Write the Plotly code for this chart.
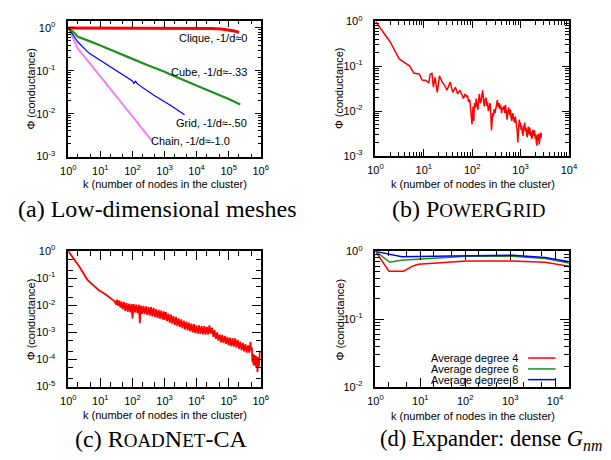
import plotly.graph_objects as go

# ---------------- data ----------------
# (a) Low-dimensional meshes
clique_k = [1, 10, 100, 1000, 10000, 30000, 60000, 100000, 150000, 210000]
clique_phi = [1.0, 1.0, 1.0, 1.0, 0.99, 0.97, 0.94, 0.9, 0.85, 0.79]

cube_k = [1, 1.5, 2, 3, 5, 10, 20, 50, 100, 300, 1000, 3000, 10000, 30000, 100000, 230000]
cube_phi = [1.0, 0.78, 0.62, 0.56, 0.48, 0.39, 0.31, 0.235, 0.19, 0.135, 0.095, 0.066,
            0.046, 0.032, 0.022, 0.0165]

grid_k = [1, 2, 4.4, 14, 45, 100, 110, 125, 145, 465, 1480, 4200]
grid_phi = [1.0, 0.47, 0.26, 0.15, 0.083, 0.058, 0.051, 0.057, 0.049, 0.027, 0.016, 0.0095]

chain_k = [1, 2, 10, 100, 414]
chain_phi = [1.0, 0.33, 0.074, 0.0087, 0.0023]

# (b) PowerGrid
pg_k = [1, 2, 3.1, 5.1, 6.2, 8.1, 9.2, 11, 12.6, 13.5,
        14.7, 15.8, 17, 19, 21, 24, 27, 30, 35, 39.5,
        45, 50, 56, 62, 66, 71, 76,
        80, 84, 89, 92, 96, 99, 102, 104, 106, 108,
        110, 112, 116, 121, 126, 131, 136, 141, 146, 152,
        158, 165, 171, 178, 185, 193, 200, 207, 215, 225,
        235, 243, 250, 258, 266, 274, 285, 296, 307, 319,
        331, 345, 360, 374, 388, 405, 420, 437, 455, 472,
        489, 507, 525, 547, 570, 593, 616, 638, 660, 687,
        714, 747, 780, 807, 834, 855, 875, 907, 940, 970,
        1000, 1025, 1050, 1088, 1125, 1170, 1220, 1260, 1300, 1335,
        1370, 1410, 1450, 1500, 1550, 1595, 1640, 1690, 1740, 1795,
        1850, 1900, 1950, 2010, 2070, 2125, 2180, 2235, 2290, 2340,
        2390, 2425, 2460, 2495, 2530, 2590, 2650, 2700]
pg_phi = [1.0, 0.35, 0.145, 0.1, 0.07, 0.066, 0.049, 0.048, 0.042, 0.066,
          0.069, 0.034, 0.056, 0.026, 0.061, 0.044, 0.037, 0.029, 0.044, 0.026,
          0.034, 0.024, 0.029, 0.022, 0.019, 0.024, 0.021,
          0.022, 0.016, 0.018, 0.012, 0.009, 0.005, 0.009, 0.0126, 0.008, 0.006,
          0.011, 0.015, 0.012, 0.019, 0.013, 0.0107, 0.018, 0.024, 0.015, 0.016,
          0.022, 0.029, 0.017, 0.0126, 0.018, 0.02, 0.013, 0.016, 0.01, 0.013,
          0.015, 0.008, 0.0037, 0.006, 0.009, 0.0076, 0.011, 0.009, 0.0126, 0.014,
          0.0177, 0.012, 0.015, 0.011, 0.0138, 0.009, 0.012, 0.0107, 0.013, 0.009,
          0.0138, 0.009, 0.0064, 0.01, 0.012, 0.008, 0.0107, 0.007, 0.006, 0.009,
          0.0076, 0.0055, 0.0075, 0.0058, 0.005, 0.0035, 0.002, 0.0045, 0.0064, 0.0045,
          0.0055, 0.0038, 0.0047, 0.0034, 0.0028, 0.0045, 0.0055, 0.0035, 0.0042, 0.003,
          0.0026, 0.0036, 0.0045, 0.003, 0.0043, 0.0028, 0.0035, 0.0024, 0.0026, 0.0038,
          0.0028, 0.0034, 0.0037, 0.0024, 0.003, 0.0019, 0.0017, 0.0027, 0.003, 0.0022,
          0.0031, 0.0018, 0.0021, 0.0026, 0.0022, 0.0033, 0.0025, 0.0032]

# (c) RoadNet-CA
rn_k = [1, 2.2, 4, 6, 9, 14, 20,
        28, 31, 33, 36, 39, 42, 46, 50, 55, 60, 66, 72, 79, 86, 94,
        100, 110, 120, 131, 144, 158, 170, 182, 200, 219, 240, 263, 288,
        316, 347, 380, 417, 457, 500, 550, 600, 660, 720, 790, 870, 950,
        1000, 1100, 1200, 1320, 1450, 1580, 1740, 1900, 2090, 2290, 2510, 2750,
        3020, 3310, 3630, 3980, 4370, 4790, 5250, 5750, 6310, 6920, 7590, 8320, 9120,
        10000, 10960, 12020, 13180, 14450, 15850, 17380, 19050, 20890, 22910, 25120,
        27540, 30200, 33110, 36310, 39810, 43650, 47860, 52480, 57540, 63100, 69180,
        75860, 83180, 91200,
        100000, 109600, 120200, 131800, 144500, 158500, 173800, 190500, 208900, 229100,
        251200, 275400, 302000, 331100, 363100, 398100, 436500, 478600, 500000, 524800,
        550000, 575400, 600000, 631000, 660000, 691800, 720000, 758600, 790000, 831800,
        870000, 912000, 950000]
rn_phi = [1.0, 0.27, 0.085, 0.055, 0.036, 0.026, 0.019,
          0.014, 0.0105, 0.016, 0.0095, 0.015, 0.0082, 0.0135, 0.0072, 0.013, 0.0062, 0.012,
          0.0058, 0.0115, 0.0055, 0.011,
          0.0033, 0.011, 0.0055, 0.0105, 0.0052, 0.0105, 0.0022, 0.0098, 0.0048, 0.0095,
          0.0047, 0.0092, 0.0044,
          0.0088, 0.0042, 0.0085, 0.0039, 0.008, 0.0037, 0.0072, 0.0034, 0.0068, 0.0032,
          0.0064, 0.003, 0.006,
          0.0029, 0.0056, 0.0026, 0.0049, 0.0023, 0.0045, 0.0021, 0.004, 0.0019, 0.0037,
          0.0017, 0.0033,
          0.0016, 0.003, 0.0014, 0.0027, 0.0013, 0.0025, 0.0012, 0.0023, 0.0011, 0.0021,
          0.001, 0.002, 0.00095,
          0.0018, 0.0009, 0.0018, 0.00088, 0.0017, 0.00085, 0.0017, 0.00082, 0.0016,
          0.00085, 0.0018,
          0.0009, 0.0015, 0.00068, 0.0012, 0.00058, 0.001, 0.0005, 0.00085, 0.00043,
          0.0008, 0.00041,
          0.00074, 0.00038, 0.00068,
          0.00033, 0.00064, 0.00031, 0.00062, 0.0003, 0.0006, 0.00028, 0.00053, 0.00025,
          0.00046,
          0.00022, 0.00041, 0.0002, 0.00037, 0.00018, 0.00033, 0.00018, 0.00045, 0.00022,
          0.00028,
          0.00008, 0.00016, 0.00006, 0.00015, 0.00006, 0.00014, 0.00005, 0.00013, 0.000035,
          0.00012,
          0.00005, 0.00015, 0.0002]

# (d) Expander: dense Gnm
exp4_k = [1, 2, 4.2, 5.4, 6.9, 9, 108, 1120, 6000, 21000]
exp4_phi = [1.0, 0.51, 0.51, 0.565, 0.61, 0.645, 0.72, 0.72, 0.69, 0.6]
exp6_k = [1, 2.1, 3.7, 20, 108, 1120, 6000, 21000]
exp6_phi = [1.0, 0.69, 0.74, 0.80, 0.85, 0.85, 0.785, 0.67]
exp8_k = [1, 2.3, 3.9, 20, 1120, 6000, 21000]
exp8_phi = [1.0, 0.88, 0.83, 0.85, 0.88, 0.81, 0.70]

legend_labels = ["Average degree 4", "Average degree 6", "Average degree 8"]
mesh_labels = ["Clique, -1/d\u22480", "Cube, -1/d\u2248-.33", "Grid, -1/d\u2248-.50",
               "Chain, -1/d\u2248-1.0"]

assert len(pg_k) == len(pg_phi), (len(pg_k), len(pg_phi))
assert len(rn_k) == len(rn_phi), (len(rn_k), len(rn_phi))

RED = "#ff0000"
GREEN = "#1f8f1f"
BLUE = "#0000ff"
VIOLET = "#f080f0"
SANS = "Liberation Sans, Arial, sans-serif"
SERIF = "Liberation Serif, Times New Roman, serif"

fig = go.Figure()


def line(k, phi, color, width, xa, ya):
    fig.add_trace(go.Scatter(x=k, y=phi, mode="lines", xaxis=xa, yaxis=ya,
                             line=dict(color=color, width=width), showlegend=False,
                             hoverinfo="skip"))


line(chain_k, chain_phi, VIOLET, 2, "x", "y")
line(grid_k, grid_phi, BLUE, 1.2, "x", "y")
line(cube_k, cube_phi, GREEN, 2.2, "x", "y")
line(clique_k, clique_phi, RED, 3, "x", "y")

line(pg_k, pg_phi, RED, 1.5, "x2", "y2")
line(rn_k, rn_phi, RED, 1.8, "x3", "y3")

line(exp4_k, exp4_phi, RED, 1.5, "x4", "y4")
line(exp6_k, exp6_phi, GREEN, 1.5, "x4", "y4")
line(exp8_k, exp8_phi, BLUE, 1.5, "x4", "y4")


def decades(lo, hi):
    vals = [10 ** e for e in range(lo, hi + 1)]
    txt = ["10<sup>%d</sup>" % e for e in range(lo, hi + 1)]
    return vals, txt


def minors(lo, hi, mult):
    out = []
    for e in range(lo, hi + 1):
        for m in mult:
            out.append(m * 10 ** e)
    return out


DENSE = [2, 3, 4, 5, 6, 7, 8, 9]
SPARSE = [2, 5]


def axis(domain, rng, dec, mult, anchor, tlen, mlen, standoff):
    tv, tt = decades(*dec)
    return dict(
        domain=domain, range=rng, type="log", anchor=anchor,
        showline=True, linecolor="black", linewidth=1.5, mirror="ticks",
        ticks="inside", ticklen=tlen, tickwidth=1, tickcolor="black",
        tickmode="array", tickvals=tv, ticktext=tt,
        tickfont=dict(family=SANS, size=11, color="black"),
        ticklabelstandoff=standoff,
        minor=dict(ticks="inside", ticklen=mlen, tickwidth=1, tickcolor="black",
                   tickmode="array", tickvals=minors(dec[0] - 1, dec[1], mult),
                   showgrid=False),
        showgrid=False, zeroline=False,
    )


XA = [62 / 611, 260 / 611]
XB = [378 / 611, 577 / 611]
YT = [1 - 153.3 / 460, 1 - 13.5 / 460]
YTB = [1 - 152.5 / 460, 1 - 13.7 / 460]
YC = [1 - 390.5 / 460, 1 - 250.7 / 460]
YD = [1 - 391 / 460, 1 - 251 / 460]

fig.update_layout(
    width=611, height=460, margin=dict(l=0, r=0, t=0, b=0),
    paper_bgcolor="white", plot_bgcolor="white", showlegend=False,
    xaxis=axis(XA, [0, 6], (0, 6), SPARSE, "y", 6, 3, 3),
    yaxis=axis(YT, [-3, 0.16], (-3, 0), DENSE, "x", 6, 3, 9),
    xaxis2=axis(XB, [0, 4], (0, 4), DENSE, "y2", 7, 4, 3),
    yaxis2=axis(YTB, [-3, 0], (-3, 0), DENSE, "x2", 7, 4, 9),
    xaxis3=axis(XA, [0, 6], (0, 6), SPARSE, "y3", 9, 5, 3),
    yaxis3=axis(YC, [-5, 0], (-5, 0), SPARSE, "x3", 9, 5, 9),
    xaxis4=axis(XB, [0, 4.31], (0, 4), SPARSE, "y4", 9, 5, 3),
    yaxis4=axis(YD, [-2, 0], (-2, 0), DENSE, "x4", 9, 5, 9),
)

ann = []
XT = "k (number of nodes in the cluster)"
YTXT = "\u03a6 (conductance)"
for (xx, yy) in [(162, 181.7), (478.5, 181.7), (162, 420), (478, 420.7)]:
    ann.append(dict(text=XT, x=xx / 611, y=1 - yy / 460, xref="paper", yref="paper",
                    showarrow=False, xanchor="center", yanchor="middle",
                    font=dict(family=SANS, size=11, color="black")))
for (xx, yy) in [(23.3, 83.4), (340, 83.1), (24, 320.6), (341.7, 321)]:
    ann.append(dict(text=YTXT, x=xx / 611, y=1 - yy / 460, xref="paper", yref="paper",
                    showarrow=False, xanchor="center", yanchor="middle", textangle=-90,
                    font=dict(family=SANS, size=11, color="black")))

# mesh labels in panel (a)
for txt, xd, yd in zip(mesh_labels, [0.94, 0.94, 0.94, 0.848], [0.877, 0.627, 0.245, 0.114]):
    ann.append(dict(text=txt, x=xd, y=yd, xref="x domain", yref="y domain",
                    showarrow=False, xanchor="right", yanchor="middle",
                    font=dict(family=SANS, size=11, color="black")))

# legend of panel (d)
leg_y = [0.214, 0.134, 0.055]
for txt, yd, col in zip(legend_labels, leg_y, [RED, GREEN, BLUE]):
    ann.append(dict(text=txt, x=0.747, y=yd, xref="x4 domain", yref="y4 domain",
                    showarrow=False, xanchor="right", yanchor="middle",
                    font=dict(family=SANS, size=11, color="black")))
    fig.add_shape(type="line", xref="x4 domain", yref="y4 domain",
                  x0=0.789, x1=0.931, y0=yd, y1=yd, line=dict(color=col, width=1.5))

SC = '<span style="font-size:19px">%s</span>'
caps = [
    ("(a) Low-dimensional meshes", 154, 207.7, "center", 24),
    ("(b) P" + SC % "OWER" + "G" + SC % "RID", 474, 207.7, "center", 24),
    ("(c) R" + SC % "OAD" + "N" + SC % "ET" + "-CA", 157.5, 445, "center", 24),
    ("(d) Expander: dense <i>G</i><sub><i>nm</i></sub>", 381, 446, "left", 22.5),
]
for txt, xx, yy, anc, sz in caps:
    ann.append(dict(text=txt, x=xx / 611, y=1 - yy / 460, xref="paper", yref="paper",
                    showarrow=False, xanchor=anc, yanchor="middle",
                    font=dict(family=SERIF, size=sz, color="black")))

fig.update_layout(annotations=ann)
fig.write_html("out.html", config={"displayModeBar": False},
               post_script="document.body.style.margin='0px';document.body.style.padding='0px';")
